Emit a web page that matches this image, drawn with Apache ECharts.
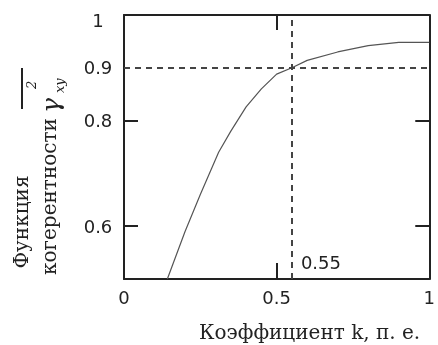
<!DOCTYPE html>
<html>
<head>
<meta charset="utf-8">
<script src="https://cdn.jsdelivr.net/npm/echarts@6/dist/echarts.min.js"></script>
<style>
html,body{margin:0;padding:0;background:#fff;}
#chart{width:438px;height:345px;}
</style>
</head>
<body>
<div id="chart"></div>
<script>
// кривая функции когерентности
var kValues = [0.142, 0.2, 0.25, 0.31, 0.35, 0.4, 0.45, 0.5, 0.55, 0.6, 0.7, 0.8, 0.9, 1.0];
var gammaValues = [0.5, 0.59, 0.66, 0.74, 0.78, 0.826, 0.86, 0.888, 0.9, 0.914, 0.93, 0.942, 0.948, 0.948];
var xTickLabels = [0, 0.5, 1];
var yTickLabels = [0.6, 0.8, 0.9, 1];
var yTickMarks = [0.6, 0.8];
var markK = 0.55;
var markGamma = 0.9;

var seriesData = [];
for (var i = 0; i < kValues.length; i++) {
	seriesData.push([kValues[i], gammaValues[i]]);
}

var frameColor = '#222';
var labelFont = 'DejaVu Sans';
var serifFont = 'DejaVu Serif';

function frameAxis(pos) {
	return {
		position: pos,
		axisLine: {show: true, onZero: false, lineStyle: {color: frameColor, width: 2}},
		splitLine: {show: false}
	};
}

var chart = echarts.init(document.getElementById('chart'));
var option = {
	animation: false,
	grid: {left: 124, top: 15, right: 4, bottom: 66},
	xAxis: [
		Object.assign(frameAxis('bottom'), {
			type: 'value', min: 0, max: 1, interval: 0.5,
			axisTick: {show: true, inside: true, length: 16, lineStyle: {color: frameColor, width: 2}},
			axisLabel: {
				customValues: xTickLabels, color: '#222', fontFamily: labelFont, fontSize: 18, margin: 11,
				formatter: function (v) { return String(v); }
			}
		}),
		Object.assign(frameAxis('top'), {
			type: 'value', min: 0, max: 1, interval: 0.5,
			axisTick: {show: true, inside: true, length: 15, lineStyle: {color: frameColor, width: 2}},
			axisLabel: {show: false}
		})
	],
	yAxis: [
		Object.assign(frameAxis('left'), {
			type: 'value', min: 0.5, max: 1, interval: 0.1,
			axisTick: {show: true, inside: true, length: 14, customValues: yTickMarks, lineStyle: {color: frameColor, width: 2}},
			axisLabel: {
				customValues: yTickLabels, color: '#222', fontFamily: labelFont, fontSize: 18,
				margin: 26, align: 'center',
				formatter: function (v) { return v === 1 ? '{t|1}' : '{n|' + v + '}'; },
				rich: {
					t: {fontFamily: labelFont, fontSize: 18, color: '#222', padding: [14, 0, 0, 0]},
					n: {fontFamily: labelFont, fontSize: 18, color: '#222', padding: [4, 0, 0, 0]}
				}
			}
		}),
		Object.assign(frameAxis('right'), {
			type: 'value', min: 0.5, max: 1, interval: 0.1,
			axisTick: {show: true, inside: true, length: 14, customValues: yTickMarks, lineStyle: {color: frameColor, width: 2}},
			axisLabel: {show: false}
		})
	],
	series: [{
		type: 'line',
		data: seriesData,
		symbol: 'none',
		lineStyle: {color: '#555', width: 1.2},
		markLine: {
			silent: true,
			symbol: 'none',
			label: {show: false},
			lineStyle: {color: '#444', width: 2, type: [6, 5]},
			data: [{yAxis: markGamma}, {xAxis: markK}]
		}
	}]
};
chart.setOption(option);

// подписи и название осей
var p = chart.convertToPixel({xAxisIndex: 0, yAxisIndex: 0}, [markK, 0.5]);
chart.setOption({
	graphic: [{
		type: 'text', left: p[0] + 9, top: p[1] - 24,
		style: {text: String(markK), font: '18px ' + labelFont, fill: '#222'}
	}, {
		type: 'text', left: 199, top: 324,
		style: {text: 'Коэффициент k, п. е.', font: '20px ' + serifFont, fill: '#222'}
	}, {
		type: 'group', x: 51, y: 275, rotation: Math.PI / 2,
		children: [{
			type: 'text', x: 0, y: 0,
			style: {text: 'когерентности', font: '20px ' + serifFont, fill: '#222', align: 'left', verticalAlign: 'middle'}
		}, {
			type: 'text', x: 53, y: -28,
			style: {text: 'Функция', font: '20px ' + serifFont, fill: '#222', align: 'center', verticalAlign: 'middle'}
		}, {
			type: 'text', x: 162, y: 1,
			style: {text: 'γ', font: 'italic 25px ' + serifFont, fill: '#222', align: 'left', verticalAlign: 'middle'}
		}, {
			type: 'text', x: 186, y: -18,
			style: {text: '2', font: 'italic 13px ' + serifFont, fill: '#222', align: 'left', verticalAlign: 'middle'}
		}, {
			type: 'text', x: 182, y: 10,
			style: {text: 'xy', font: 'italic 13px ' + serifFont, fill: '#222', align: 'left', verticalAlign: 'middle'}
		}, {
			type: 'line', shape: {x1: 166, y1: -29, x2: 207, y2: -29},
			style: {stroke: '#222', lineWidth: 2}
		}]
	}]
});
</script>
</body>
</html>
